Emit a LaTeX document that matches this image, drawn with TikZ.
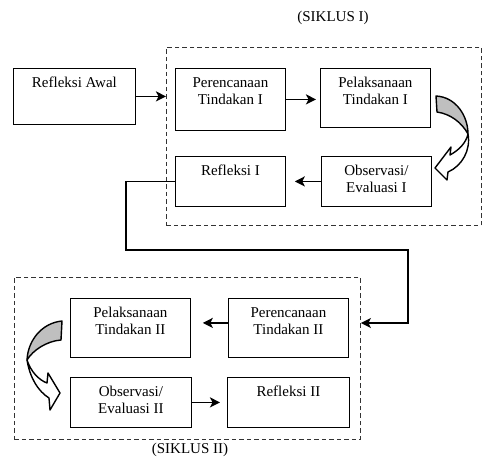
\documentclass[tikz,border=0pt]{standalone}
\usepackage{fontspec}
\setmainfont{Liberation Serif}
\usetikzlibrary{arrows.meta}

\begin{document}
\begin{tikzpicture}[
  x=1pt,
  y=-1pt,
  font=\fontsize{15}{17}\selectfont,
  box/.style={
    rectangle,
    draw,
    line width=0.8pt,
    anchor=north west,
    inner sep=0pt
  },
  frame/.style={
    rectangle,
    draw=black!80,
    dash pattern=on 4.5pt off 3pt,
    line width=0.9pt,
    anchor=north west,
    inner sep=0pt
  },
  txt/.style={anchor=north, align=center, inner sep=0pt, yshift=-9pt},
  arrow/.style={-{Stealth[length=10pt,width=10pt,inset=2.5pt]}, line width=1.8pt},
  ribbon/.style={line width=1.4pt, line join=round},
  back/.style={ribbon, fill=black!25},
  front/.style={ribbon, fill=white}
]
\useasboundingbox (0,0) rectangle (483,459);

\node[frame, minimum width=315pt, minimum height=178pt] (cyc1) at (166,47) {};
\node[frame, minimum width=346pt, minimum height=162pt] (cyc2) at (14,277) {};

\node (tag1) at (333,18) {(SIKLUS I)};
\node (tag2) at (190,450) {(SIKLUS II)};

\node[box, minimum width=122pt, minimum height=56pt,
  label={[txt]north:Refleksi Awal}] (awal) at (13,68) {};

\node[box, minimum width=110pt, minimum height=62pt,
  label={[txt]north:Perencanaan\\Tindakan I}] (pr1) at (175,68) {};
\node[box, minimum width=110pt, minimum height=59pt,
  label={[txt]north:Pelaksanaan\\Tindakan I}] (pl1) at (320,68) {};
\node[box, minimum width=110pt, minimum height=50pt,
  label={[txt]north:Observasi/\\Evaluasi I}] (ob1) at (321,156) {};
\node[box, minimum width=110pt, minimum height=50pt,
  label={[txt]north:Refleksi I}] (rf1) at (175,156) {};

\node[box, minimum width=120pt, minimum height=59pt,
  label={[txt]north:Perencanaan\\Tindakan II}] (pr2) at (228,298) {};
\node[box, minimum width=120pt, minimum height=59pt,
  label={[txt]north:Pelaksanaan\\Tindakan II}] (pl2) at (70,298) {};
\node[box, minimum width=121pt, minimum height=50pt,
  label={[txt]north:Observasi/\\Evaluasi II}] (ob2) at (70,377) {};
\node[box, minimum width=122pt, minimum height=50pt,
  label={[txt]north:Refleksi II}] (rf2) at (227,377) {};

% straight arrows
\draw[arrow] (awal.east) -- (awal.east -| cyc1.west);
\draw[arrow, shorten >=4pt] (pr1.east) -- (pr1.east -| pl1.west);
\draw[arrow, shorten >=9pt] (ob1.west) -- (ob1.west -| rf1.east);
\draw[arrow, shorten >=12pt] ([yshift=5pt]pr2.west) -- ([yshift=5pt]pr2.west -| pl2.east);
\draw[arrow, shorten >=7pt] (ob2.east) -- (ob2.east -| rf2.west);

% from cycle I to cycle II
\coordinate (turn1) at (126,250);
\coordinate (turn2) at (408,323);
\draw[arrow] (rf1.west) -| (turn1) -| (turn2) -- (turn2 -| cyc2.east);

% curved block arrows
\draw[front] (468,134) .. controls (471,150) and (462,166) .. (448,172)
  -- (447,180) -- (435,168) -- (451,147) -- (450,155)
  .. controls (459,150) and (466,143) .. (468,134) -- cycle;
\draw[back] (436,96) .. controls (456,97) and (468,116) .. (468,134)
  .. controls (462,123) and (451,114) .. (437,112) -- cycle;

\draw[front] (27,360) .. controls (30,378) and (38,391) .. (49,398)
  -- (50,410) -- (60,393) -- (48,373) -- (47,383)
  .. controls (39,380) and (31,372) .. (27,360) -- cycle;
\draw[back] (62,321) .. controls (42,323) and (28,340) .. (27,360)
  .. controls (33,350) and (47,341) .. (61,340) -- cycle;

\end{tikzpicture}
\end{document}
